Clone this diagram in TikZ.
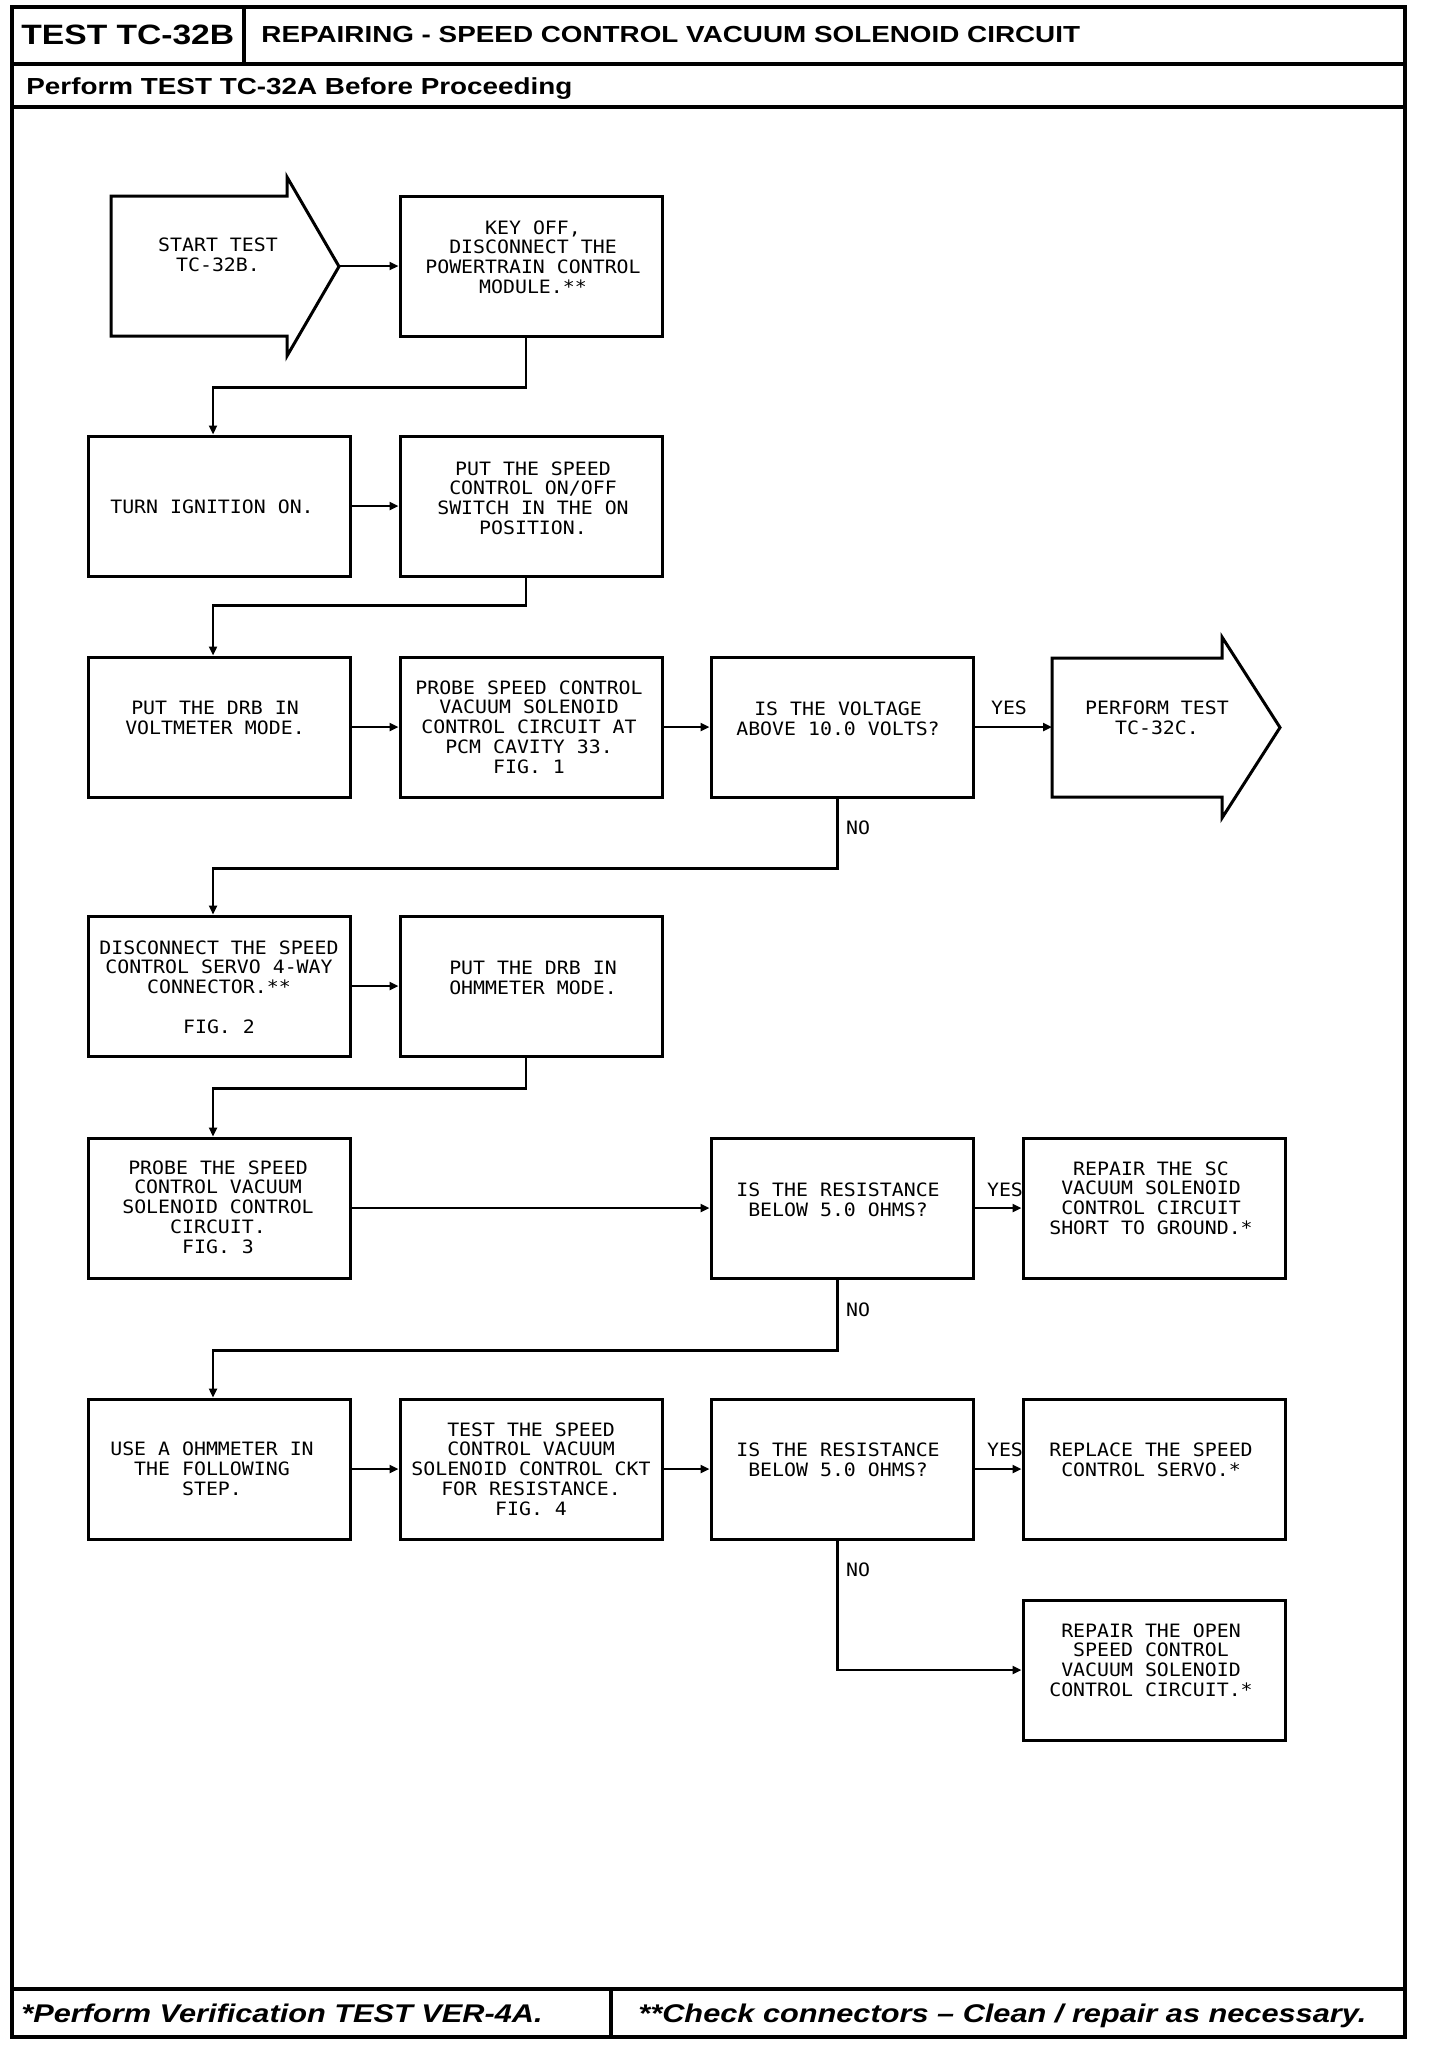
\documentclass[tikz,border=0pt]{standalone}
\usepackage{fontspec}
\setmainfont{Liberation Sans}
\newfontfamily\plotfont[FakeStretch=1.08]{DejaVu Sans Mono}
\newfontfamily\hdrfont[FakeStretch=1.2]{Liberation Sans}
\usetikzlibrary{arrows.meta}
\begin{document}
\begin{tikzpicture}[x=0.5pt,y=-0.5pt,
  box/.style={draw,line width=1.5pt,minimum width=131pt,minimum height=70pt,inner sep=0pt},
  txt/.style={font=\plotfont\fontsize{9.2}{9.9}\selectfont,align=center,inner sep=0pt},
  lbl/.style={font=\plotfont\fontsize{9.2}{9.9}\selectfont,inner sep=0pt},
  conn/.style={line width=1.25pt,-{Triangle[length=4.5pt,width=4pt]}},
  frm/.style={line width=1.6pt},
  bigarrow/.style={line width=1.5pt,line join=miter},
  hdr/.style={anchor=base west,inner sep=0pt,font=\hdrfont\bfseries\fontsize{11.6}{13}\selectfont},
  ftr/.style={anchor=base west,inner sep=0pt,font=\hdrfont\bfseries\itshape\fontsize{12.8}{15}\selectfont}]
\useasboundingbox (0,0) rectangle (1440,2050);
\fill[white] (0,0) rectangle (1440,2050);
% frame
\draw[frm] (12,7) rectangle (1405,2037);
\draw[frm] (12,64) -- (1405,64);
\draw[frm] (244,7) -- (244,64);
\draw[frm] (12,107) -- (1405,107);
\draw[frm] (12,1989) -- (1405,1989);
\draw[frm] (611,1989) -- (611,2037);
% header / footer
\node[hdr,font=\hdrfont\bfseries\fontsize{14}{16}\selectfont] (hd1) at (21,45) {TEST TC-32B};
\node[hdr] (hd2) at (261,43) {REPAIRING - SPEED CONTROL VACUUM SOLENOID CIRCUIT};
\node[hdr] (hd3) at (26,95) {Perform TEST TC-32A Before Proceeding};
\node[ftr] (ft1) at (21,2022) {*Perform Verification TEST VER-4A.};
\node[ftr] (ft2) at (638,2022) {**Check connectors – Clean / repair as necessary.};
% start arrow
\draw[bigarrow] (111,196) -- (287,196) -- (287,177) -- (339,266.5) -- (287,356) -- (287,336) -- (111,336) -- cycle;
\coordinate (s1tip) at (339,266);
\node[txt] (t1) at (218,255) {START TEST\\TC-32B.};
% perform arrow
\draw[bigarrow] (1052,658) -- (1222,658) -- (1222,637) -- (1280,727.5) -- (1222,818) -- (1222,797) -- (1052,797) -- cycle;
\coordinate (p1left) at (1052,727);
\node[txt] (t8) at (1157,718) {PERFORM TEST\\TC-32C.};
% boxes
\node[box] (b2) at (531,266) {};
\node[box] (b3) at (219,506) {};
\node[box] (b4) at (531,506) {};
\node[box] (b5) at (219,727) {};
\node[box] (b6) at (531,727) {};
\node[box] (b7) at (842,727) {};
\node[box] (b9) at (219,986) {};
\node[box] (b10) at (531,986) {};
\node[box] (b11) at (219,1208) {};
\node[box] (b12) at (842,1208) {};
\node[box] (b13) at (1154,1208) {};
\node[box] (b14) at (219,1469) {};
\node[box] (b15) at (531,1469) {};
\node[box] (b16) at (842,1469) {};
\node[box] (b17) at (1154,1469) {};
\node[box] (b18) at (1154,1670) {};
% texts
\node[txt] (t2) at (533,257) {KEY OFF,\\DISCONNECT THE\\POWERTRAIN CONTROL\\MODULE.**};
\node[txt] (t3) at (212,507) {TURN IGNITION ON.};
\node[txt] (t4) at (533,498) {PUT THE SPEED\\CONTROL ON/OFF\\SWITCH IN THE ON\\POSITION.};
\node[txt] (t5) at (215,718) {PUT THE DRB IN\\VOLTMETER MODE.};
\node[txt] (t6) at (529,727) {PROBE SPEED CONTROL\\VACUUM SOLENOID\\CONTROL CIRCUIT AT\\PCM CAVITY 33.\\FIG. 1};
\node[txt] (t7) at (838,719) {IS THE VOLTAGE\\ABOVE 10.0 VOLTS?};
\node[txt] (t9) at (219,987) {DISCONNECT THE SPEED\\CONTROL SERVO 4-WAY\\CONNECTOR.**\\[9.9pt]FIG. 2};
\node[txt] (t10) at (533,978) {PUT THE DRB IN\\OHMMETER MODE.};
\node[txt] (t11) at (218,1207) {PROBE THE SPEED\\CONTROL VACUUM\\SOLENOID CONTROL\\CIRCUIT.\\FIG. 3};
\node[txt] (t12) at (838,1200) {IS THE RESISTANCE\\BELOW 5.0 OHMS?};
\node[txt] (t13) at (1151,1198) {REPAIR THE SC\\VACUUM SOLENOID\\CONTROL CIRCUIT\\SHORT TO GROUND.*};
\node[txt] (t14) at (212,1469) {USE A OHMMETER IN\\THE FOLLOWING\\STEP.};
\node[txt] (t15) at (531,1469) {TEST THE SPEED\\CONTROL VACUUM\\SOLENOID CONTROL CKT\\FOR RESISTANCE.\\FIG. 4};
\node[txt] (t16) at (838,1460) {IS THE RESISTANCE\\BELOW 5.0 OHMS?};
\node[txt] (t17) at (1151,1460) {REPLACE THE SPEED\\CONTROL SERVO.*};
\node[txt] (t18) at (1151,1660) {REPAIR THE OPEN\\SPEED CONTROL\\VACUUM SOLENOID\\CONTROL CIRCUIT.*};
% labels
\node[lbl] (y1) at (1009,708) {YES};
\node[lbl] (n1) at (858,828) {NO};
\node[lbl] (y2) at (1005,1190) {YES};
\node[lbl] (n2) at (858,1310) {NO};
\node[lbl] (y3) at (1005,1450) {YES};
\node[lbl] (n3) at (858,1570) {NO};
% connectors
\draw[conn] (s1tip) -- (b2.west);
\draw[conn] ([xshift=-2.5pt]b2.south) -- ++(0,50) -| ([xshift=-3pt]b3.north);
\draw[conn] (b3.east) -- (b4.west);
\draw[conn] ([xshift=-2.5pt]b4.south) -- ++(0,28) -| ([xshift=-3pt]b5.north);
\draw[conn] (b5.east) -- (b6.west);
\draw[conn] (b6.east) -- (b7.west);
\draw[conn] (b7.east) -- (p1left);
\draw[conn] ([xshift=-2.25pt]b7.south) -- ++(0,70) -| ([xshift=-3pt]b9.north);
\draw[conn] (b9.east) -- (b10.west);
\draw[conn] ([xshift=-2.5pt]b10.south) -- ++(0,31) -| ([xshift=-3pt]b11.north);
\draw[conn] (b11.east) -- (b12.west);
\draw[conn] (b12.east) -- (b13.west);
\draw[conn] ([xshift=-2.25pt]b12.south) -- ++(0,71) -| ([xshift=-3pt]b14.north);
\draw[conn] (b14.east) -- (b15.west);
\draw[conn] (b15.east) -- (b16.west);
\draw[conn] (b16.east) -- (b17.west);
\draw[conn] ([xshift=-2.25pt]b16.south) |- (b18.west);
\end{tikzpicture}
\end{document}
